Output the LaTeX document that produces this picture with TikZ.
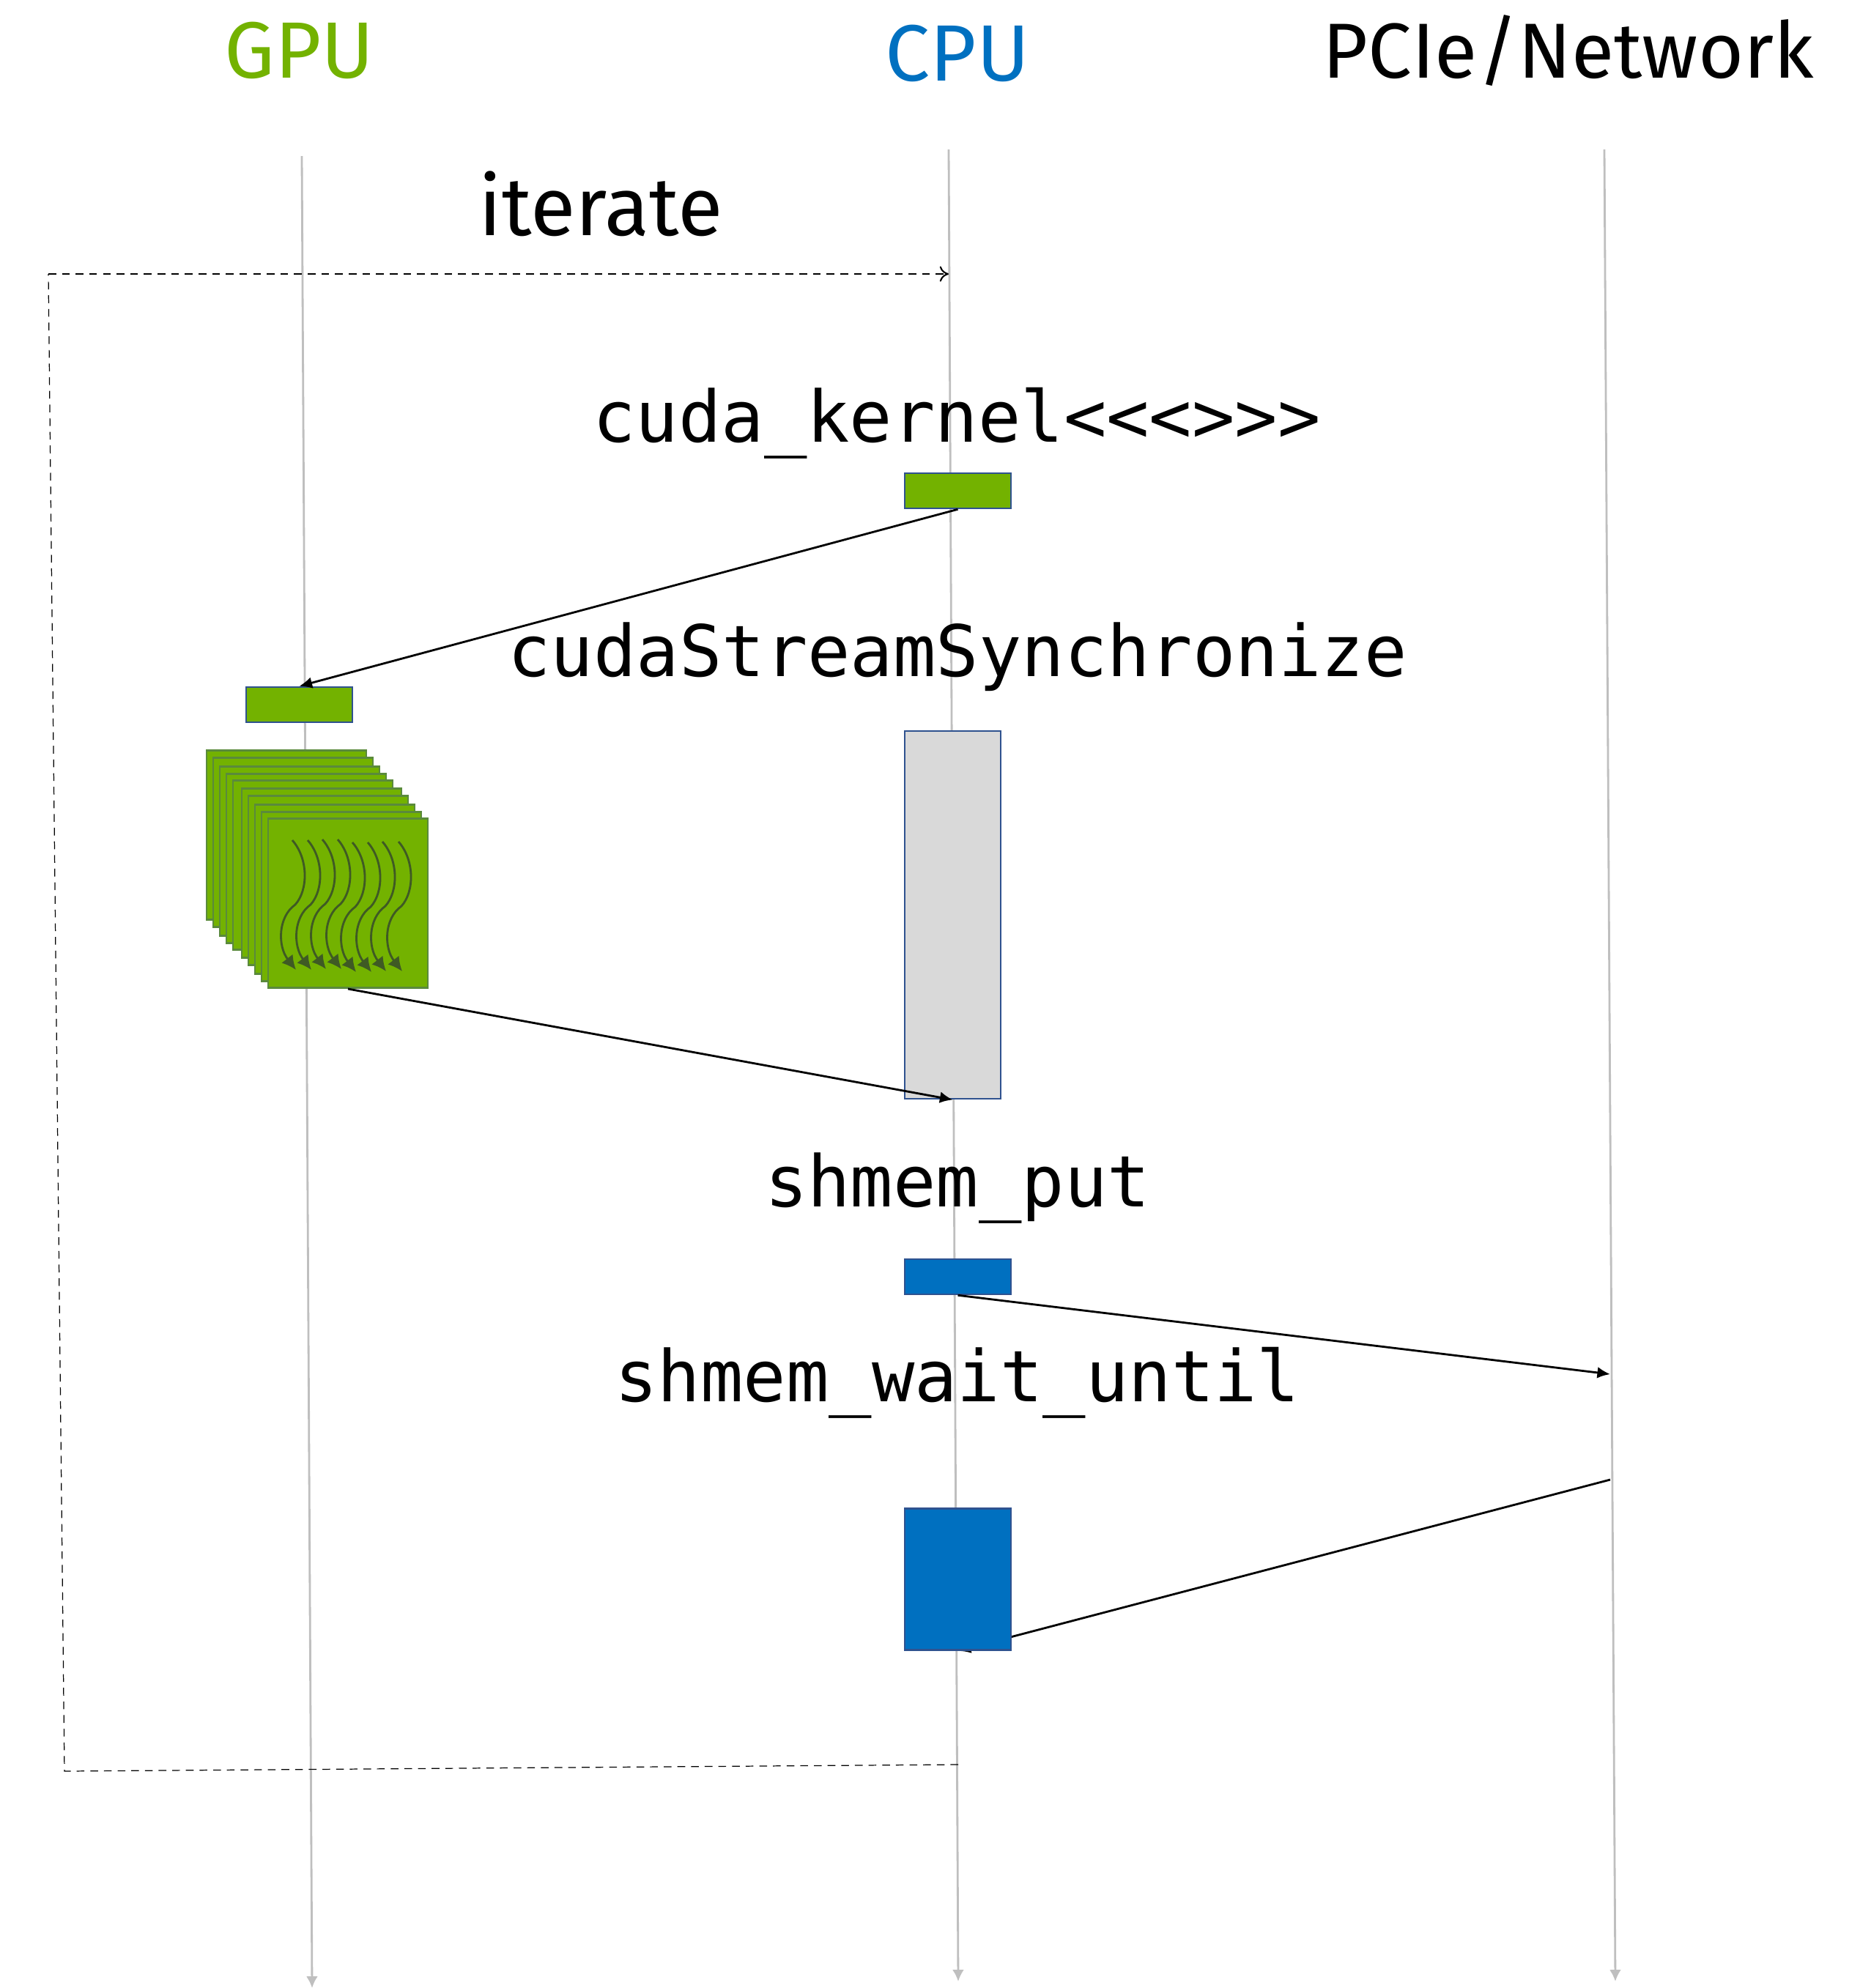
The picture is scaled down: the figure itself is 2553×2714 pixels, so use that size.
\documentclass[tikz,border=0pt]{standalone}
\usepackage{xcolor}
\usepackage{fontspec}
\usepackage{tikz}
\usetikzlibrary{arrows,arrows.meta,backgrounds}
\setmainfont{Fira Sans}
\setmonofont{DejaVu Sans Mono}
\definecolor{nvgreen}{HTML}{73B200}
\definecolor{cpublue}{HTML}{0070C0}
\definecolor{edgeblue}{HTML}{2F528F}
\definecolor{stackedge}{HTML}{5A8A3C}
\definecolor{wavecol}{HTML}{3F5A24}
\definecolor{lifecol}{HTML}{BFBFBF}
\tikzstyle{title}=[font=\fontsize{31}{36}\selectfont,inner sep=0pt]
\tikzstyle{call}=[font=\ttfamily\fontsize{27.6}{33}\selectfont,inner sep=0pt]
\tikzstyle{bar}=[draw=edgeblue,line width=0.7pt,inner sep=0pt,minimum width=1.45cm,minimum height=0.48cm]
\tikzstyle{page}=[draw=stackedge,line width=0.8pt,fill=nvgreen,inner sep=0pt,minimum width=2.18cm,minimum height=2.31cm]
\tikzstyle{msg}=[line width=0.8pt,-{Latex[length=5pt,width=4.5pt]}]
\tikzstyle{life}=[line width=0.8pt,lifecol,-{Latex[length=4.5pt,width=4.5pt]}]
\tikzstyle{loop}=[line width=0.35pt,dash pattern=on 3pt off 2.3pt]
\tikzstyle{wave}=[line width=0.8pt,wavecol,-{Latex[length=5.5pt,width=5.5pt]}]

\begin{document}
\begin{tikzpicture}[x=0.01cm,y=-0.01cm]
\useasboundingbox (0,0) rectangle (2553,2714);
\node[title,text=nvgreen] (gpu) at (409,69) {GPU};
\node[title,text=cpublue] (cpu) at (1307,73) {CPU};
\node[title,font=\fontsize{30.3}{36}\selectfont] (net) at (2141,69) {PCIe/Network};
\node[title,font=\fontsize{32}{36}\selectfont] (iter) at (820,278) {iterate};
\node[call] (kname) at (1306,578) {cuda\_kernel<<<>>>};
\node[call] (sname) at (1307,897) {cudaStreamSynchronize};
\node[call] (pname) at (1307,1622) {shmem\_put};
\node[call] (wname) at (1307,1888) {shmem\_wait\_until};
\coordinate (gputop) at (412,213);
\coordinate (gpubot) at (426,2714);
\coordinate (cputop) at (1295,204);
\coordinate (cpubot) at (1308,2705);
\coordinate (nettop) at (2190,204);
\coordinate (netbot) at (2205,2705);
\node[bar,fill=nvgreen] (kernel) at (1307.5,670) {};
\node[bar,fill=nvgreen] (launch) at (408.5,962) {};
\node[bar,fill=black!15,minimum width=1.31cm,minimum height=5.02cm] (sync) at (1300.5,1249) {};
\node[bar,fill=cpublue] (put) at (1307.5,1743) {};
\node[bar,fill=cpublue,minimum height=1.93cm] (wait) at (1307.5,2156) {};
\foreach \i/\dx/\dy in {1/0/0,2/9/10,3/18/22,4/27/32,5/36/41,6/48/52,7/57/62,8/66/74,9/75/84,10/84/93}
  \node[page] (stack\i) at (391+\dx,1140+\dy) {};
\foreach \dx/\dy in {0/0,21/0,41/-1,62/-1,82/3,103/3,123/2,145/2}
  \draw[wave,shift={(399+\dx,1147+\dy)}] (0,0) .. controls (22,25) and (22,68) .. (4,88) .. controls (-20,105) and (-20,145) .. (5,177);
\coordinate (iterend) at (1295,374);
\coordinate (loopa) at (66,374);
\coordinate (loopb) at (88,2418);
\coordinate (loopc) at (1308,2409);
\coordinate (netin) at (2198,1876);
\coordinate (netout) at (2198,2020);
\begin{scope}[on background layer]
\draw[life] (gputop) -- (gpubot);
\draw[life] (cputop) -- (cpubot);
\draw[life] (nettop) -- (netbot);
\draw[msg] (netout) -- (wait.south);
\end{scope}
\draw[msg] (kernel.south) -- (launch.north);
\draw[msg] (stack10.south) -- (sync.south);
\draw[msg] (put.south) -- (netin);
\draw[loop] (loopc) -- (loopb) -- (loopa);
\draw[loop,line width=0.6pt,-{To[length=3.5pt,width=6pt]}] (loopa) -- (iterend);
\end{tikzpicture}
\end{document}
